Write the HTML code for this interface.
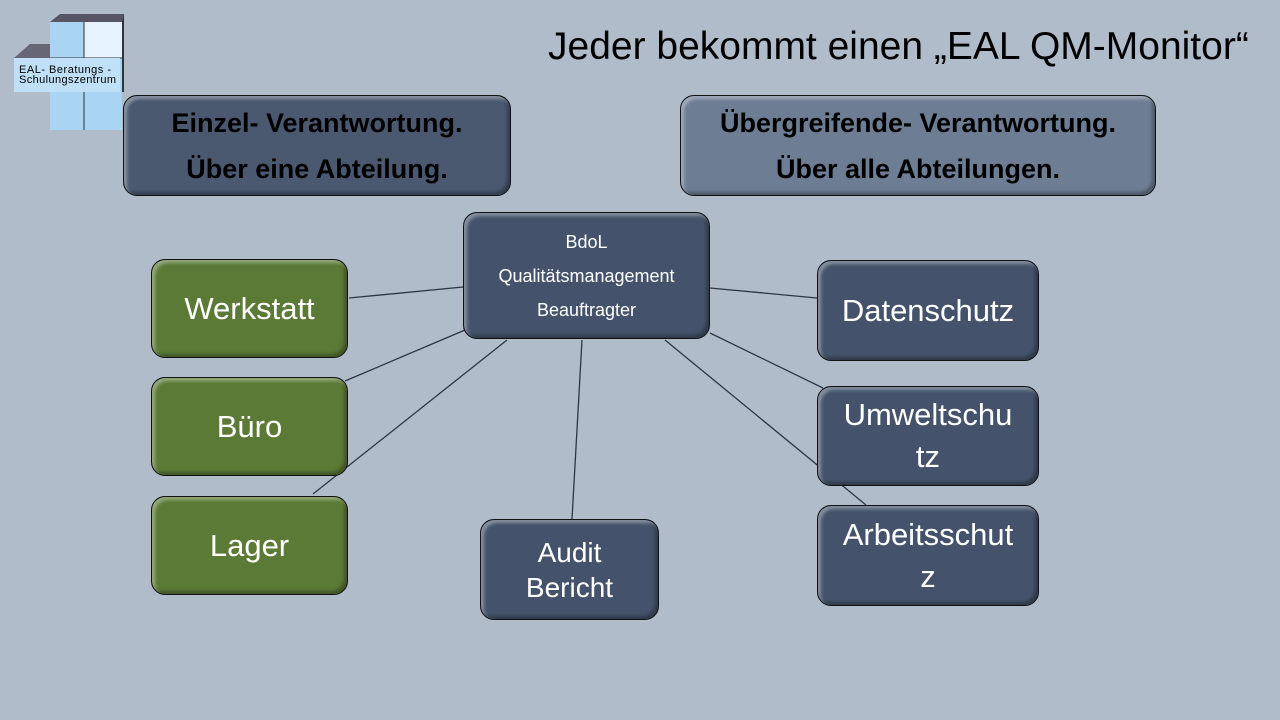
<!DOCTYPE html>
<html><head><meta charset="utf-8"><style>
body{margin:0;width:1280px;height:720px;background:#b1bccb;position:relative;overflow:hidden;font-family:"Liberation Sans",sans-serif}
.b{position:absolute;box-sizing:border-box;border:1.5px solid #111;border-radius:14px;background:#44536b;color:#fff;display:flex;align-items:center;justify-content:center;text-align:center;box-shadow:inset 3px 3px 3px rgba(255,255,255,.35),inset -3px -3px 3px rgba(0,0,0,.3)}
.g{background:#5b7a35}
.t{color:#000;font-weight:bold;font-size:27px;line-height:46px;white-space:nowrap}
</style></head><body>
<svg width="1280" height="720" style="position:absolute;left:0;top:0">
<g stroke="#2d3644" stroke-width="1.3">
<line x1="349" y1="298" x2="463" y2="287"/><line x1="345" y1="381" x2="465" y2="330"/>
<line x1="313" y1="494" x2="507" y2="340"/><line x1="572" y1="519" x2="582" y2="340"/>
<line x1="710" y1="288" x2="817" y2="298"/><line x1="710" y1="333" x2="823" y2="388"/>
<line x1="665" y1="340" x2="866" y2="505"/></g>
<polygon points="50,22 60,14 124,14 124,22" fill="#556"/>
<rect x="50" y="22" width="72" height="108" fill="#a9d4f2"/>
<rect x="84" y="22" width="38" height="36" fill="#e6f3fc"/>
<line x1="84" y1="22" x2="84" y2="130" stroke="#333"/><line x1="50" y1="58" x2="122" y2="58" stroke="#333"/>
<polygon points="14,58 30,44 50,44 50,58" fill="#667"/>
<rect x="14" y="58" width="106" height="34" fill="#bfe0f7"/>
<polygon points="122,22 124,14 124,92 122,92" fill="#333"/>
<text x="19" y="73" font-size="11" font-family="Liberation Sans,sans-serif" textLength="92">EAL- Beratungs -</text>
<text x="19" y="83" font-size="11" font-family="Liberation Sans,sans-serif" textLength="97">Schulungszentrum</text>
</svg>
<div style="position:absolute;left:548px;top:25px;font-size:39px;color:#000;white-space:nowrap">Jeder bekommt einen „EAL QM-Monitor“</div>
<div class="b t" style="left:123px;top:95px;width:388px;height:101px;background:#4a5870">Einzel- Verantwortung.<br>Über eine Abteilung.</div>
<div class="b t" style="left:680px;top:95px;width:476px;height:101px;background:#6d7d94">Übergreifende- Verantwortung.<br>Über alle Abteilungen.</div>
<div class="b" style="left:463px;top:212px;width:247px;height:127px;font-size:18px;line-height:34px">BdoL<br>Qualitätsmanagement<br>Beauftragter</div>
<div class="b g" style="left:151px;top:259px;width:197px;height:99px;font-size:31px">Werkstatt</div>
<div class="b g" style="left:151px;top:377px;width:197px;height:99px;font-size:31px">Büro</div>
<div class="b g" style="left:151px;top:496px;width:197px;height:99px;font-size:31px">Lager</div>
<div class="b" style="left:480px;top:519px;width:179px;height:101px;font-size:28px;line-height:35px">Audit<br>Bericht</div>
<div class="b" style="left:817px;top:260px;width:222px;height:101px;font-size:31px">Datenschutz</div>
<div class="b" style="left:817px;top:386px;width:222px;height:100px;font-size:31px;line-height:42px">Umweltschu<br>tz</div>
<div class="b" style="left:817px;top:505px;width:222px;height:101px;font-size:31px;line-height:42px">Arbeitsschut<br>z</div>
</body></html>
